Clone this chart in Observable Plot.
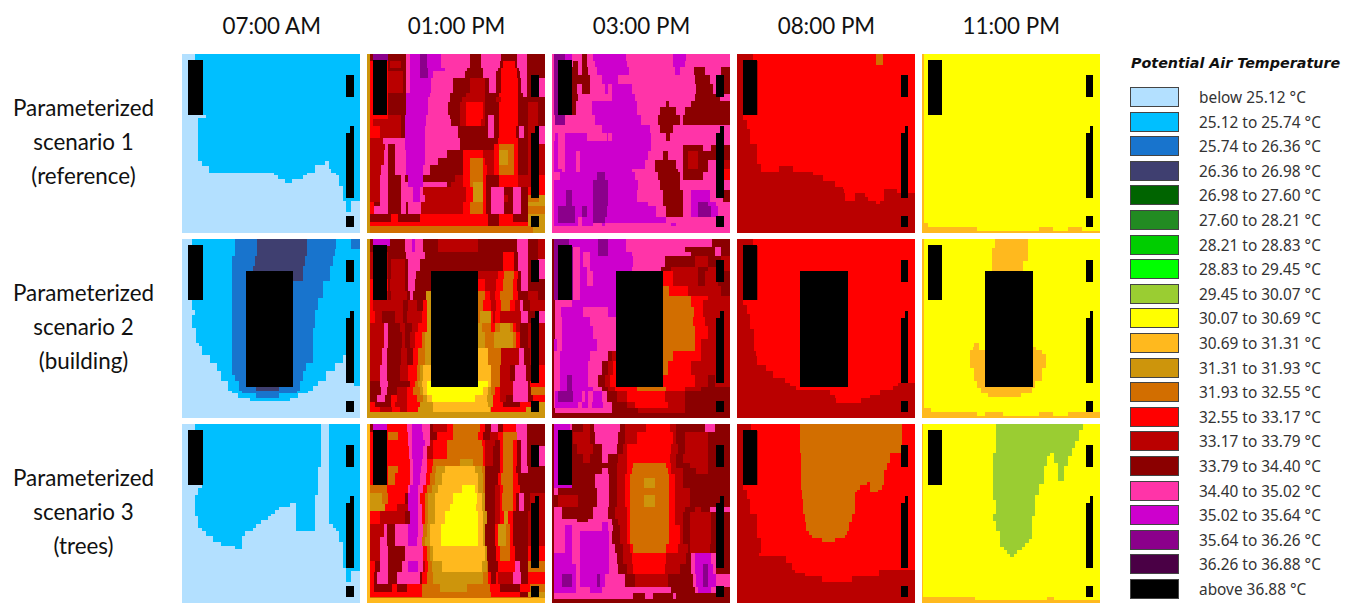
<!DOCTYPE html>
<html><head><meta charset="utf-8">
<script src="https://cdn.jsdelivr.net/npm/d3@7"></script>
<script src="https://cdn.jsdelivr.net/npm/@observablehq/plot@0.6"></script>
<style>
html,body{margin:0;background:#fff}
#wrap{position:relative;width:1350px;height:616px;overflow:hidden}
#legendTitle{position:absolute;left:1131px;top:55px;font:italic bold 14.3px "DejaVu Sans";color:#111;white-space:nowrap}
.sw{position:absolute;left:1130px;width:47px;height:18px;border:1.5px solid #444;box-sizing:content-box}
.lb{position:absolute;left:1199px;font:15.4px "Noto Sans";color:#333;white-space:nowrap;line-height:20px}
</style></head><body><div id="wrap"></div>
<script>
const times=["07:00 AM","01:00 PM","03:00 PM","08:00 PM","11:00 PM"];
const scenarios=["Parameterized\nscenario 1\n(reference)","Parameterized\nscenario 2\n(building)","Parameterized\nscenario 3\n(trees)"];
const classLabels=["below 25.12 °C","25.12 to 25.74 °C","25.74 to 26.36 °C","26.36 to 26.98 °C","26.98 to 27.60 °C","27.60 to 28.21 °C","28.21 to 28.83 °C","28.83 to 29.45 °C","29.45 to 30.07 °C","30.07 to 30.69 °C","30.69 to 31.31 °C","31.31 to 31.93 °C","31.93 to 32.55 °C","32.55 to 33.17 °C","33.17 to 33.79 °C","33.79 to 34.40 °C","34.40 to 35.02 °C","35.02 to 35.64 °C","35.64 to 36.26 °C","36.26 to 36.88 °C","above 36.88 °C"];
const classColors=["#B3E0FF","#00BFFF","#1874CD","#3F3F70","#006400","#228B22","#00CD00","#00FF00","#9ACD32","#FFFF00","#FFB91E","#CD950C","#D26E00","#FF0000","#BA0000","#8B0000","#FF34A8","#CD00CD","#8B008B","#4A0045","#000000"];
const classKeys="abcdefghijklmnopqrstu";
const gridSize=537;
// Each row: "firstRow:" then class letter + column where that class starts.
const s1t0=["0:a0b39","183:a0b71","193:a0b49","323:a0b59a429b441","334:a0b59a399b441","337:a0b82a399b441","345:a0b82a399b449","357:a0b277a376b462","365:a0b289a364b474","377:a0b311a331b474","387:a0b474","397:a0b484","442:a0b495a509","474:a0"];
const s1t1=["0:l0p8s19p64q119r129s160r180q224p309q344p404q452p482",
"22:l0n8p64o70p104q119r129s160r180q224p309q344p400n410p445q452p482",
"42:l0n8p64q119r129s160r185q234p300q348p394n404p452q458p482",
"50:l0n8o64p108q119r129s160r185q200p295q348p390n404p452q462p482",
"72:l0n8o64p110q119r129q194p259o309p354q368p390n404p454q464p482q514",
"117:l0n8p64r119q189p249o299p354n399p454q469p482q514",
"130:l0n8p64r119q184p249o285p354o390n404p454",
"145:l0n8p64r119q184p244o279n299o349p354n399p454o484p514",
"183:l0n8o64p104r116q179p250o279n299o349p354q364p384n399p454o484p514",
"195:l0n8o19p104r116q179p254o279n299o344p354q364p384n399p454o484p514",
"215:l0n8o39p104r116q174p274q364p384n399p449q459p472o484q514",
"252:l0o8q49r116q174p279n394p454o484q514",
"270:l0o8q54p64q84r116q174p279n384m399n444p454o484",
"290:l0o8q51p64q84r119q174p240n290o350n384l399m424n444p454o484",
"312:l0o8q51p64q84r119q174p214n290m310n350o355n384l399m424n444p454o484",
"335:l0o8q41p64q84r119q170p190n290m309n349o360n384m399n444p454o484",
"365:l0o8q40p64q104p114r124p169o264n289m309n349p359n399o454n514",
"385:l0o8q40p64q104q119r124q169p240o254n289m309l319n349p359n399o454n514",
"400:l0o8q40p64q104r139q159o169n299l319n349p359q374p414q439p464n484",
"425:l0o8q40p64q104r139q159o174n299l319n349p359q374o414p424q439p464m484l519",
"445:l0n8p20q40p64q104p119q124o164n290m310n349p359q374p414q439p464l484",
"457:l0n8q20p64q104p119q124o164n290m310n349p359q374p414q439p464m484",
"482:l0p8n74p94n159p364n399p439l484",
"505:l0n8n354p364n399l484",
"516:l0m8l500"];
const s1t2=["0:q0s8r40q60p92q105r125q223r365q405",
"22:q0s8q62p64q80p92q105r130q225r365q400",
"40:q0s8p62q80p92q110r135q232r372q385p428q460p510",
"62:q0s8p62q115r150q200p430q475p500",
"90:q0s8p62q75p92q115r160q170r182q240p435q485p510",
"120:q0s8p62q80r182q250p430q505",
"140:q0s8p62q72r120q255p345q352p420",
"160:q0s8p62q72r120q255p325q375p400",
"183:q0s10q40r130q270p320q385p395",
"213:q0r150q295p325q365",
"237:q0r10q20r40q105r165q170r180q300p345q355",
"262:q0r8q18r40q300",
"272:q0r8q18r40q300p395q455p480",
"293:q0r8q18r40q72r84q290p335q350p395o410p440p495",
"320:q0r8q18r40q72r84q280p312q375p395o410p440q470o515",
"345:q0r8q30r40q72r84q240p312q380p395q470n515",
"355:q0r25r40s135r160q250p320q385p395q455n515",
"380:q0r8s125r170q260p325q385",
"410:q0r8s42r62s125r170q255p335q395r420q475q495p515",
"445:q0r8s42r62s125r170q290p335q395r420s440r470q495",
"457:q0r8s18r70s92r105s125r165q315p345q395r420s440r480q500",
"490:q0r8s18r70q80r92s125r160q345",
"508:q0r8q80r90q125r150q160r360q375",
"518:q0"];
const s1t3=["0:o0n50m420n440","20:o0n63m420n440","32:o0n63","183:o0n20","197:o0n30","225:o0n40","269:o0n62","330:o0n72","337:o0n72o127n170","355:o0n230","365:o0n260","382:o0n297","400:o0n320","407:o0n322o442n482","419:o0n325o357n387o442","430:o0n327o357n395o442","442:o0n418o432","452:o0"];
const s1t4=["0:k0j6","507:k0j18","519:k0j168k354j397k442j484","531:k0"];
const s2t0=["0:a0b29c159d226c377b464c509","30:a0b29c159d226c377b459","52:a0b29c149d219c369b454","82:a0b29c149d214c364b444","127:a0b29c149b424","177:a0b29c149b409","212:a0b39c149b399","227:a0b29c149b399","267:a0b41c149b394","312:a0b51c149b394","322:a0b61c149b394","347:a0b84c149b394a484b519","372:a0b104c149b374a459b519","397:a0b116c149b364a434b519","407:a0b116c159b364a434b519","427:a0b139c171b354a409b519","442:a0b139c171d224c291b354a395","455:a0b150c180b345a380","462:a0b169c224b291a350","477:a0b204a324","487:a0"];
const s2t1=["0:l0p8r19p69q114r136q146p169o214p334q452p484o514",
"20:l0p8p69q114r136q146p169o214p334q452p484o514",
"40:l0o8p64q119q164p174p409n409p444q454p484o514",
"60:l0o8p64o74p114q124p159n409p444q454p484q514",
"95:l0o8p64o74p114q124p149o334n394m414n444p454q464p484q514",
"120:l0n8p64o70p114q125p145n334o354n390m410n440p452q464p484",
"155:l0n8o19p64o74p120q129p140l179m333n354o370n385m400n440p454o484p514",
"183:l0n8o19p110o125p150n169l180m334n350o375n390m405n430o445q460p470o490",
"217:l0n8o25p44o84p110o120n165l180m334l340n375o380n385o400q464p484q514",
"252:l0o8q50p65o100p115o135n155l180m345n375m385l400m430n440o450p460o484",
"280:l0o8q50p64o105p115o130n145m165l175m354l384m439n450p460o484",
"327:l0o8q44p60o104p120n140m155l175k334m365o405q459p472o490",
"377:l0o8q40p60o100n125m150l160k169m375o400p430q445p480n495",
"427:l0p8q40p64n130m145l155k165j180j334k365m375o400q440p484n490",
"445:l0p8q42p60o90n120m140l160k170j180k350l365m375n385o400q440p485m495",
"467:l0p8q30p55n72o90n120m150l170k180j195k325l360n380o400p420q440p485n500",
"490:l0n8p25n72o85n120l160k200k340l365n380p410n460l500",
"505:l0n8o40n75o100n120l155k200l370n375l480",
"520:l0"];
const s2t2=["0:p0s8r52s140r170q223p483",
"25:p0s8q65r85s140r170q223p400q490p510",
"40:p0s8q65r85q95r115s140r170q240p420q490p510",
"50:p0s8q65r85q95r115q245p340o430p470o510",
"85:p0s8q65r85q105r115q240p330o360p440o470",
"95:p0s8q65r85q105r125o332n335o365p440o460p500",
"140:p0s8q65r85m332n352o410p510",
"170:p0s8q65r85m332n420o470",
"183:p0q10r62m332n420o455",
"205:p0q10r28q95r170m332n428o455",
"235:p0q10r30q115m332n425o460",
"262:p0q10r32q125m332n430o470",
"300:p0r8q15r32q135m332n430o450",
"337:p0q8r25q115p170o180m332n365o450",
"367:p0q8r25q110p150o170n185m332n350o420",
"407:p0q8r25s45r60q110p140o160n175n332o430p470o490",
"445:p0q8r25s45r60q125p150o170n190m255n345o400p450",
"457:p0q8r10s20r65q90r100q110r125q150p165o195n225o340p400",
"490:p0q8r10q80r90q110r120q155p180o225n250o350p400",
"507:p0q10p180o260p400",
"522:p0"];
const s2t3=["0:o0n50","20:o0n63","183:o0n20","197:o0n30","225:o0n40","269:o0n52","337:o0n57","352:o0n62","377:o0n87","397:o0n110","417:o0n145","432:o0n160o487","442:o0n180o470","452:o0n280o430","467:o0n295o400","477:o0n300o375","492:o0"];
const s2t4=["0:k0j6k222j320","27:k0j6k212j320","65:k0j6k212j305","312:k0j6k159j172","325:k0j6k155j172k314j344","333:k0j6k147j362","344:k0j6k147j374","387:k0j6k157j362","425:k0j6k167j342","446:k0j6k180j332","462:k0j6k200j299","475:k0j6","507:k0j28","519:k0j168k190j245k354j397k440","530:k0"];
const s3t0=["0:a0b39a419b441","127:a0b39a409b441","182:a0b61a409b441","192:a0b49a409b441","212:a0b39a399b441","235:a0b39a324b344a399b441","247:a0b39a291b344a399b441","257:a0b39a279b344a399b441","269:a0b39a269b344a399b441","277:a0b49a259b344a399b441","287:a0b49a237b344a399b441","299:a0b49a224b344a399b454","312:a0b59a214b344a399b464","322:a0b71a191b474","337:a0b94a181b474","355:a0b116a181b484","365:a0b159a181b484","375:a0b484","432:a0b495","442:a0b495a509","474:a0"];
const s3t1=["0:k0p8r19n60q122r136q166p190o200n240m260n340p355q374p394n410q450p482",
"22:k0n8m64n94q125r136q170p190n210m260n335p350o370n395m410q452p482",
"47:k0n8q125r136q175o190n200m240n345o355p385n400m410n440p452q464p482",
"65:k0n8q128r136q170o180n200m240n350o355p380n400m410n440p452q464p482q514",
"105:k0n8q130r140q165n180m200l279m320n350o355p380n400m410n440p452q464p482q514",
"125:k0n8m64n94q130r138q162n180m195l209k234l324m345p355n400m410n440p450q464p484",
"145:k0n8m64n84q130r138q160n178m190l205k225l335m350p355n395m405n440p455p484",
"183:k0m8n60q125r130q155n170m180l195k215j285k325l335m350p355o385n400m410n440p460",
"205:k0l8m44n64p115r125q155n160m175l185k205j260k330l345p355o385n400m408n440p450q459p472o490",
"240:k0l8n55o90r125q155n165m175l185k205j249k329l345p355o385n400m408n440p450q459p472o490",
"262:k0n8o40p115r130q155n165m175l185k205j235k335l350p360o385n400l412n425p440o484",
"300:k0o8q50p60q84r124q155m170l180k190j224k335l350p355n385l395m420n430p440o484",
"340:k0o8q40p60q84r124q150m165l175k190j224k335l350p355n385l395m420n430p440o484",
"367:k0o8q40p64q114n169m180l190k200k345l355p360n390m400n430p445n484",
"410:k0n8p25q40p64q105r125q155o169n175m185l195k225l345m360p365n395q445p460m484",
"445:k0n8p20q30p64q90q124p159n165m180l200m350n365p375n390o395q440p465n485",
"480:k0n8p20n75p90n120m165l220m300n370p400n460m490",
"505:k0n8m165n375p460l484",
"518:k0m8l500",
"523:k0"];
const s3t2=["0:p0r8q55p62o95p115q127p205o220n285o355p375q460p490",
"22:p0r8p62o65p115q130p200o220n255o365p375o400p470",
"60:p0r8p62o75p125q150p195o215n225o360p380o400p470",
"90:p0r8p62o95p115q152p170o200n225o355p375o395p470",
"117:p0r8p62p175o195n225m245n345o360p375o415p470",
"130:p0r8p62q150p170o195n225m240n350o360p395o435p470",
"150:p0r8p62q130p172o195n220m235n352o372p395p470",
"162:p0r8p62q130p172o195n220m235l278m310n352o372p395",
"192:p0q8p20q135p172o195n220m235n352o372p415",
"212:p0o20p80q135p172o195n220m235l278m310n352o372p415",
"247:p0q8p30q125p170o190n225m235n352o372p400o430p450q475",
"265:p0q8p30q125p170o190n225m235n352o372p395o415p480",
"285:p0q8p75q110p180o200n225m235n352o372p395o415p480",
"295:p0q8r152q170p180o200n225m235n352o372p395o415p480",
"302:p0q8r40q60r150q170p185o205n225m235n352o385p395o415p480",
"322:p0q8r40q60r85q172p180o205n225m235n352o385p395o415p480",
"360:p0q8r40q60r85q172p190o215n235m245n345o380p410o415p475",
"387:p0r8q60r85q172p195o215n240o345p405q420r430q480p495",
"420:p0r8q72r85q172p200o225n245o340p385q420r430s455r470q485p495",
"450:p0r8s30r60q72r85s135r145q160p220o250p350q425r435s455r470q495",
"490:p0r8q72r115q150q245p360q430r440q480p495",
"507:p0q8p245q280p305q365p373",
"525:p0"];
const s3t3=["0:o0n42m192n497","20:o0n63m192n497","85:o0n63m194n462","117:o0n63m194n452","137:o0n63m194n442","172:o0n63m194n392m400n442","183:o0n20m194n372m400n437","197:o0n30m197n362m400n425","202:o0n30m197n357","225:o0n40m200n357","269:o0n62m205n347","295:o0n62m210n337","322:o0n62m217n332","332:o0n62m227n325","342:o0n72m257n297","355:o0n72","387:o0n67","397:o0n147","417:o0n165","437:o0n175o427","447:o0n207o427","457:o0n257o347","474:o0"];
const s3t4=["0:k0j4i225j485","18:k0j4i225j474","50:k0j4i225j462","72:k0j4i225j452","86:k0j4i214j387i399j452","94:k0j4i214j377i399j440","115:k0j4i214j377i410j440","126:k0j4i214j367i410j430","169:k0j4i214j367","180:k0j4i214j354","212:k0j4i214j342","226:k0j4i225j342","269:k0j4i214j342","276:k0j4i214j332","290:k0j4i225j332","322:k0j4i236j332","344:k0j4i236j322","357:k0j4i236j312","368:k0j4i247j302","378:k0j4i257j287","389:k0j4i267j277","400:k0j4","518:k0j160k377j399","529:k0"];
const panels=[[s1t0,s1t1,s1t2,s1t3,s1t4],[s2t0,s2t1,s2t2,s2t3,s2t4],[s3t0,s3t1,s3t2,s3t3,s3t4]];
// Obstacles (walls and the scenario 2 building), in the same grid units: [x1,x2,y1,y2]
const walls=[[18,62,18,183],[494,517,63,128],[506,517,215,237],[494,517,237,432],[494,517,487,519]];
const building=[192,334,95,444];

const cells=[];
panels.forEach((row,si)=>row.forEach((rows,ti)=>{
  rows.forEach((r,i)=>{
    const [y,runs]=r.split(":");
    const next=i+1<rows.length?+rows[i+1].split(":")[0]:gridSize;
    const m=[...runs.matchAll(/([a-u])([\d.]+)/g)];
    m.forEach((k,j)=>{
      const x2=j+1<m.length?+m[j+1][2]:gridSize;
      if(x2>+k[2]) cells.push({time:times[ti],scenario:scenarios[si],cls:classLabels[classKeys.indexOf(k[1])],x1:+k[2],x2,y1:+y,y2:next});
    });
  });
}));
const obstacles=[];
scenarios.forEach((s,si)=>times.forEach(t=>{
  for(const w of si===1?[...walls,building]:walls) obstacles.push({time:t,scenario:s,cls:classLabels[20],x1:w[0],x2:w[1],y1:w[2],y2:w[3]});
}));
const rectOpts={x1:"x1",x2:"x2",y1:"y1",y2:"y2",fill:"cls",fx:"time",fy:"scenario",shapeRendering:"crispEdges"};
const chart=Plot.plot({
  width:1350,height:616,marginLeft:182,marginRight:250,marginTop:54,marginBottom:13,
  style:{background:"#fff",fontFamily:"Lato"},
  x:{axis:null,domain:[0,gridSize]},
  y:{axis:null,domain:[0,gridSize],reverse:true},
  fx:{domain:times,paddingInner:0.035,paddingOuter:0,round:false,label:null},
  fy:{domain:scenarios,paddingInner:0.035,paddingOuter:0,round:false,label:null},
  color:{type:"ordinal",domain:classLabels,range:classColors},
  marks:[
    Plot.axisFx({anchor:"top",tickSize:0,tickPadding:21,fontSize:22.4,label:null,fill:"#111",lineHeight:1}),
    Plot.axisFy({anchor:"left",tickSize:0,tickPadding:12,fontSize:22.4,label:null,fill:"#111",textAnchor:"middle",dx:-87,dy:-5,lineHeight:1.52}),
    Plot.rect(cells,rectOpts),
    Plot.rect(obstacles,rectOpts)
  ]
});
const wrap=document.getElementById("wrap");
wrap.appendChild(chart);
const t=document.createElement("div");t.id="legendTitle";t.textContent="Potential Air Temperature";wrap.appendChild(t);
classLabels.forEach((l,i)=>{
  const top=87+i*24.6;
  const s=document.createElement("div");s.className="sw";s.style.top=top+"px";s.style.background=classColors[i];wrap.appendChild(s);
  const b=document.createElement("div");b.className="lb";b.style.top=(top+1)+"px";b.textContent=l;wrap.appendChild(b);
});
</script></body></html>
